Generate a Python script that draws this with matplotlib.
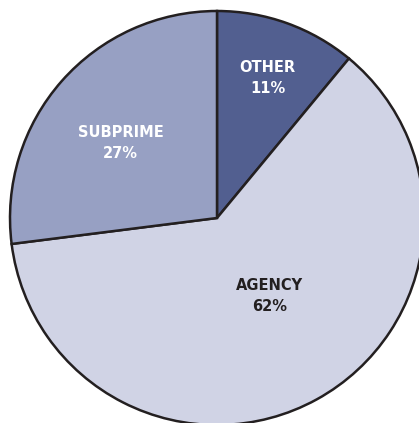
import numpy as np
import matplotlib.pyplot as plt

labels = ['OTHER', 'AGENCY', 'SUBPRIME']
shares = [11, 62, 27]
colors = ['#525f90', '#d0d3e5', '#97a0c3']
text_colors = ['white', '#231f20', 'white']
# radial distance (fraction of radius) and angle nudge (deg) for each label
label_dist = [0.72, 0.455, 0.59]
label_turn = [0, 5, 3.4]

W, H = 419, 423
cx, cy, R = 217, 218, 207

fig = plt.figure(figsize=(W / 100, H / 100), dpi=100)
ax = fig.add_axes([0, 0, 1, 1])

wedges, _ = ax.pie(shares, colors=colors, startangle=90, counterclock=False,
                   radius=R, center=(0, 0),
                   wedgeprops=dict(edgecolor='#231f20', linewidth=1.8))

for w, lab, val, tc, d, t in zip(wedges, labels, shares, text_colors, label_dist, label_turn):
    ang = np.deg2rad((w.theta1 + w.theta2) / 2 + t)
    x, y = d * R * np.cos(ang), d * R * np.sin(ang)
    ax.text(x, y, f'{lab}\n{val}%', ha='center', va='center', color=tc,
            fontsize=10.5, fontweight='bold', linespacing=1.5)

ax.set_xlim(-cx, W - cx)
ax.set_ylim(-(H - cy), cy)
ax.set_aspect('equal', adjustable='datalim')
ax.axis('off')

fig.savefig('out.png', dpi=100)
